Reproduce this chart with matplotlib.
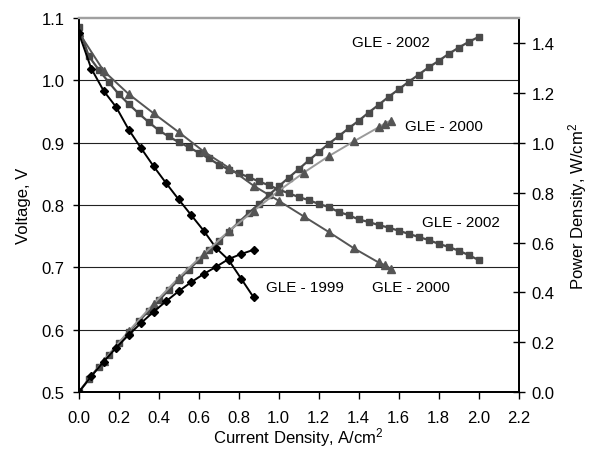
import matplotlib

matplotlib.use("Agg")

import matplotlib.pyplot as plt

plt.rcParams["font.family"] = ["Liberation Sans", "DejaVu Sans"]
plt.rcParams["mathtext.fontset"] = "custom"
plt.rcParams["mathtext.rm"] = "Liberation Sans"
plt.rcParams["mathtext.it"] = "Liberation Sans"

# GLE - 1999 (diamonds, black)
i_1999 = [0, 0.0625, 0.125, 0.1875, 0.25, 0.3125, 0.375, 0.4375, 0.5,
          0.5625, 0.625, 0.6875, 0.75, 0.8125, 0.875]
v_1999 = [1.076, 1.019, 0.983, 0.957, 0.921, 0.891, 0.862, 0.835, 0.809,
          0.784, 0.759, 0.731, 0.712, 0.682, 0.652]
p_1999 = [0.0, 0.064, 0.123, 0.179, 0.230, 0.278, 0.323, 0.365, 0.405,
          0.441, 0.474, 0.503, 0.534, 0.554, 0.571]

# GLE - 2000 (triangles)
i_2000 = [0, 0.125, 0.25, 0.375, 0.5, 0.625, 0.75, 0.875, 1.0, 1.125,
          1.25, 1.375, 1.5, 1.53, 1.56]
v_2000 = [1.077, 1.015, 0.978, 0.947, 0.917, 0.886, 0.860, 0.831, 0.807,
          0.782, 0.757, 0.731, 0.708, 0.704, 0.698]
p_2000 = [0.0, 0.127, 0.245, 0.355, 0.459, 0.554, 0.645, 0.727, 0.807,
          0.880, 0.946, 1.005, 1.062, 1.077, 1.089]

# GLE - 2002 (squares)
i_2002 = [0.0, 0.05, 0.1, 0.15, 0.2, 0.25, 0.3, 0.35, 0.4, 0.45, 0.5,
          0.55, 0.6, 0.65, 0.7, 0.75, 0.8, 0.85, 0.9, 0.95, 1.0,
          1.05, 1.1, 1.15, 1.2, 1.25, 1.3, 1.35, 1.4, 1.45, 1.5,
          1.55, 1.6, 1.65, 1.7, 1.75, 1.8, 1.85, 1.9, 1.95, 2.0]
v_2002 = [1.086, 1.039, 1.017, 0.997, 0.978, 0.962, 0.947, 0.933, 0.920,
          0.910, 0.901, 0.893, 0.884, 0.875, 0.865, 0.857, 0.851, 0.845,
          0.838, 0.832, 0.825, 0.819, 0.813, 0.808, 0.802, 0.797, 0.789,
          0.784, 0.777, 0.773, 0.768, 0.764, 0.759, 0.754, 0.749, 0.744,
          0.738, 0.733, 0.727, 0.720, 0.712]
p_2002 = [0.0, 0.052, 0.102, 0.150, 0.196, 0.241, 0.284, 0.327, 0.368,
          0.410, 0.451, 0.491, 0.530, 0.569, 0.606, 0.643, 0.681, 0.718,
          0.754, 0.790, 0.825, 0.860, 0.894, 0.929, 0.962, 0.996, 1.026,
          1.058, 1.088, 1.121, 1.152, 1.184, 1.214, 1.244, 1.273, 1.302,
          1.328, 1.356, 1.381, 1.404, 1.424]

x_ticks = [0.0, 0.2, 0.4, 0.6, 0.8, 1.0, 1.2, 1.4, 1.6, 1.8, 2.0, 2.2]
v_ticks = [0.5, 0.6, 0.7, 0.8, 0.9, 1.0, 1.1]
p_ticks = [0.0, 0.2, 0.4, 0.6, 0.8, 1.0, 1.2, 1.4]

DARK = "#4a4a4a"
MID = "#555555"
LIGHT = "#9a9a9a"

fig = plt.figure(figsize=(5.92, 4.52), dpi=100)
ax = fig.add_axes([0.133, 0.13, 0.743, 0.828])
ax2 = ax.twinx()

# gridlines on voltage ticks
for v in v_ticks[1:-1]:
    ax.axhline(v, color="#222222", lw=0.8, zorder=0)

# voltage curves
ax.plot(i_2002, v_2002, color=DARK, lw=1.6, marker="s", ms=5, zorder=3)
ax.plot(i_2000, v_2000, color=MID, lw=1.4, marker="^", ms=5.5, zorder=3)
ax.plot(i_1999, v_1999, color="black", lw=1.4, marker="D", ms=3.8, zorder=4)

# power curves
ax2.plot(i_2002, p_2002, color=DARK, lw=1.6, marker="s", ms=5, zorder=3)
ax2.plot(i_2000, p_2000, color=LIGHT, lw=1.4, marker="^", ms=5.5,
         mfc=MID, mec=MID, zorder=3)
ax2.plot(i_1999, p_1999, color="black", lw=1.4, marker="D", ms=3.8, zorder=4)

ax.set_xlim(0, 2.2)
ax.set_ylim(0.5, 1.1)
ax2.set_ylim(0, 1.5)
ax.set_xticks(x_ticks)
ax.set_yticks(v_ticks)
ax2.set_yticks(p_ticks)
ax.set_xticklabels([f"{t:.1f}" for t in x_ticks])
ax.set_yticklabels([f"{t:.1f}" for t in v_ticks])
ax2.set_yticklabels([f"{t:.1f}" for t in p_ticks])

ax.tick_params(axis="x", labelsize=12, direction="out", length=5,
               width=1, color="black", pad=8)
ax.tick_params(axis="y", labelsize=12, direction="out", length=4,
               width=1, color="black", pad=6)
ax2.tick_params(axis="y", labelsize=12, direction="inout", length=9,
                width=1, pad=5)

for a in (ax, ax2):
    a.spines["top"].set_color("#a0a0a0")
    a.spines["top"].set_linewidth(1.6)
    a.spines["left"].set_linewidth(1.3)
    a.spines["right"].set_linewidth(1.3)
    a.spines["bottom"].set_linewidth(1.3)

ax.set_xlabel("Current Density, A/cm$^2$", fontsize=12, labelpad=0)
ax.set_ylabel("Voltage, V", fontsize=12, labelpad=8)
ax2.set_ylabel("Power Density, W/cm$^2$", fontsize=12, labelpad=8)

lbl = dict(fontsize=11, ha="center", va="center")
ax.text(1.56, 1.062, "GLE - 2002", **lbl)
ax.text(1.826, 0.927, "GLE - 2000", **lbl)
ax.text(1.911, 0.7725, "GLE - 2002", **lbl)
ax.text(1.663, 0.668, "GLE - 2000", **lbl)
ax.text(1.13, 0.668, "GLE - 1999", **lbl)

fig.savefig("out.png", dpi=100)
